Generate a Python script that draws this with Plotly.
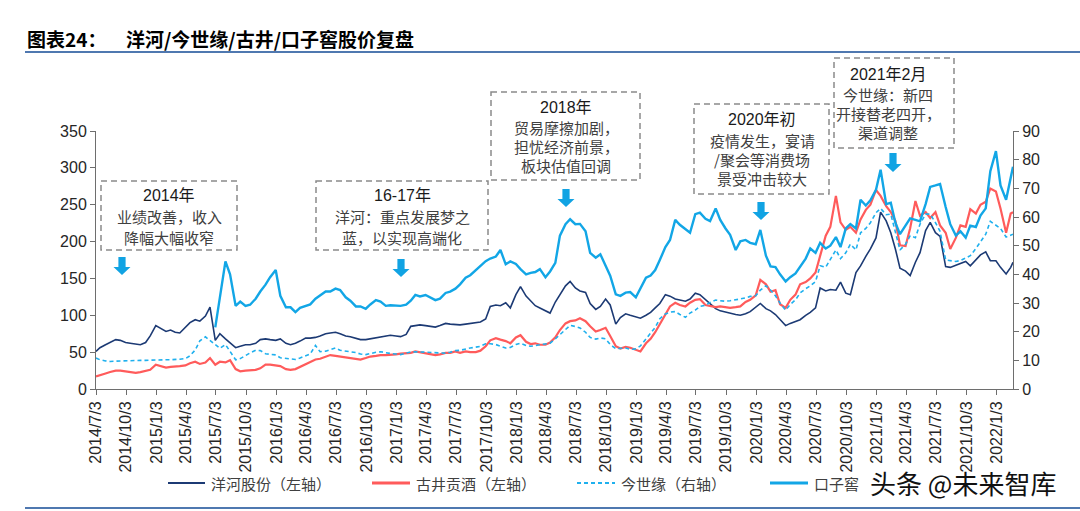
import plotly.graph_objects as go

# ---------------- data (semi-monthly readings) ----------------
dates = []
for yr in range(2014, 2023):
    for mo in range(1, 13):
        if (yr == 2014 and mo < 7) or (yr == 2022 and mo > 2):
            continue
        dates.append(f"{yr}-{mo:02d}-01")
        dates.append(f"{yr}-{mo:02d}-15")
dates[0] = "2014-07-03"
dates.append("2022-02-22")

yanghe = [
    51, 56, 60, 63, 67, 66, 63, 62, 61, 60, 63, 72,
    86, 82, 78, 80, 77, 76, 83, 90, 94, 92, 99, 111, 66, 75, 68, 62, 56, 58, 60, 60, 62, 67, 68, 67,
    66, 68, 62, 60, 62, 65, 69, 69, 70, 72, 75, 76, 77, 75, 72, 71, 69, 67, 67, 68, 70, 71, 72, 73,
    72, 71, 74, 85, 86, 87, 86, 85, 84, 86, 89, 88, 87, 87, 88, 89, 91, 91, 95, 112, 114, 113, 117, 110,
    128, 139, 126, 120, 113, 110, 106, 103, 118, 128, 140, 146, 137, 133, 131, 116, 108, 112, 122, 114, 88, 97, 102, 100,
    98, 96, 100, 104, 110, 116, 128, 126, 122, 121, 119, 122, 130, 128, 121, 116, 109, 106, 104, 103, 101, 100, 102, 105,
    111, 116, 109, 106, 101, 94, 86, 89, 92, 94, 100, 104, 110, 137, 133, 135, 134, 145, 130, 128, 158, 167, 180, 190,
    205, 240, 228, 212, 190, 164, 160, 154, 172, 185, 215, 226, 212, 207, 166, 165, 168, 170, 173, 167, 175, 182, 186, 174,
    174, 165, 156, 165, 172,
]

gujing = [
    17, 19, 21, 23, 25, 25, 24, 23, 22, 23, 25, 26,
    33, 31, 29, 30, 31, 31, 32, 35, 37, 34, 36, 42, 33, 37, 36, 39, 27, 24, 25, 25, 26, 28, 33, 33,
    32, 31, 27, 26, 27, 30, 34, 37, 40, 41, 44, 46, 45, 44, 43, 42, 41, 40, 42, 44, 45, 46, 46, 46,
    47, 48, 49, 49, 51, 50, 49, 48, 46, 47, 49, 49, 51, 49, 51, 50, 50, 52, 58, 66, 69, 67, 65, 62,
    70, 73, 64, 61, 62, 60, 60, 63, 70, 80, 89, 92, 93, 96, 92, 85, 78, 80, 83, 72, 58, 55, 57, 56,
    53, 51, 62, 68, 77, 88, 102, 112, 117, 114, 112, 117, 121, 122, 114, 113, 111, 112, 111, 110, 111, 112, 118, 121,
    127, 148, 142, 132, 134, 115, 110, 121, 128, 142, 145, 150, 158, 180, 208, 220, 262, 226, 216, 220, 212, 230, 243, 250,
    270, 262, 248, 240, 228, 195, 194, 218, 255, 235, 240, 232, 240, 222, 212, 190, 205, 222, 220, 244, 238, 250, 254, 272,
    268, 245, 212, 238, 240,
]

jinshiyuan = [
    10.8, 10.2, 9.8, 9.6, 9.7, 9.8, 9.9, 9.9, 9.9, 10.0, 10.0, 10.1,
    10.1, 10.1, 10.2, 10.2, 10.2, 10.4, 10.6, 11.6, 13.6, 16.8, 18.2, 17.0, 15.6, 14.2, 15.5, 13.0, 10.2, 10.6, 11.8, 12.6, 13.5, 13.4, 12.3, 12.0,
    11.9, 10.9, 10.6, 10.4, 10.3, 10.8, 11.7, 12.2, 15.2, 13.0, 13.2, 13.6, 14.3, 13.5, 13.1, 13.0, 12.7, 12.2, 12.0, 12.4, 12.8, 13.0, 12.6, 12.4,
    12.2, 12.0, 12.5, 12.9, 13.0, 12.9, 12.8, 12.7, 12.5, 12.4, 12.5, 12.8, 13.4, 13.5, 14.0, 14.3, 14.6, 14.9, 15.8, 15.8, 15.5, 15.0, 14.3, 14.5,
    15.5, 16.0, 15.2, 14.9, 15.2, 15.5, 15.8, 16.0, 17.5, 19.0, 21.0, 22.2, 21.8, 21.3, 19.8, 18.0, 17.4, 17.8, 17.5, 15.5, 14.1, 14.2, 14.3, 13.8,
    14.0, 15.0, 17.5, 19.5, 21.5, 24.5, 26.2, 26.8, 27.0, 26.0, 25.0, 26.5, 27.5, 28.8, 29.2, 30.2, 31.0, 30.8, 30.6, 30.8, 31.0, 31.4, 31.8, 32.3,
    32.5, 34.5, 36.0, 34.5, 32.5, 30.0, 27.5, 29.5, 31.1, 33.5, 35.0, 36.0, 37.5, 43.0, 42.5, 45.0, 48.5, 45.5, 47.5, 50.5, 48.5, 54.5, 56.0, 58.0,
    61.5, 63.0, 60.8, 61.0, 55.0, 48.5, 50.5, 53.5, 52.8, 57.5, 61.0, 61.0, 58.0, 55.0, 45.0, 44.8, 44.5, 44.8, 45.7, 46.5, 49.0, 51.5, 54.0, 58.5,
    57.0, 56.0, 53.0, 53.8, 54.0,
]

kouzijiao = [
    None, None, None, None, None, None, None, None, None, None, None, None,
    None, None, None, None, None, None, None, None, None, None, None, None,
    21.5, 32, 44.5, 40, 29, 30.5, 29, 29.4, 31.5, 34, 36.4, 39,
    41.5, 32.5, 28.5, 28.5, 26.8, 28.3, 29.0, 29.5, 31.5, 32.5, 34.0, 34.0, 35.0, 34.5, 32.0, 30.8, 28.8, 28.8, 28.0, 29.5, 31.0, 30.5, 29.0, 29.2,
    29.0, 29.0, 29.4, 30.8, 32.8, 32.3, 32.8, 32.0, 31.0, 31.5, 33.5, 34.0, 35.0, 36.5, 38.8, 39.7, 41.5, 42.8, 44.6, 45.5, 46.2, 48.5, 43.5, 44.5,
    43.6, 41.8, 40.0, 40.5, 40.8, 41.8, 39.0, 41.0, 44.0, 53.5, 57.5, 59.2, 57.5, 57.6, 55.0, 47.5, 45.8, 47.0, 43.0, 39.5, 33.0, 32.5, 33.6, 33.8,
    32.0, 35.0, 38.8, 39.6, 41.5, 45.0, 49.5, 52.0, 59.0, 57.3, 55.8, 54.5, 61.0, 61.5, 59.4, 58.6, 63.0, 59.0, 56.0, 53.8, 48.5, 51.5, 52.0, 51.0,
    50.5, 55.5, 46.5, 42.8, 42.5, 40.0, 37.5, 39.0, 40.3, 42.5, 45.5, 49.0, 47.5, 51.0, 49.0, 50.0, 53.0, 49.5, 56.0, 57.5, 56.0, 66.0, 64.0, 65.8,
    69.5, 76.5, 64.5, 65.0, 58.0, 54.0, 57.0, 59.5, 59.0, 58.5, 64.5, 70.5, 71.0, 71.5, 63.5, 57.5, 53.5, 55.0, 52.8, 57.0, 56.5, 60.5, 63.0, 76.0,
    83.0, 71.0, 66.0, 74.0, 77.5,
]

tick_dates = [
    "2014-07-03", "2014-10-03", "2015-01-03", "2015-04-03", "2015-07-03", "2015-10-03",
    "2016-01-03", "2016-04-03", "2016-07-03", "2016-10-03", "2017-01-03", "2017-04-03",
    "2017-07-03", "2017-10-03", "2018-01-03", "2018-04-03", "2018-07-03", "2018-10-03",
    "2019-01-03", "2019-04-03", "2019-07-03", "2019-10-03", "2020-01-03", "2020-04-03",
    "2020-07-03", "2020-10-03", "2021-01-03", "2021-04-03", "2021-07-03", "2021-10-03",
    "2022-01-03",
]
tick_labels = [
    "2014/7/3", "2014/10/3", "2015/1/3", "2015/4/3", "2015/7/3", "2015/10/3",
    "2016/1/3", "2016/4/3", "2016/7/3", "2016/10/3", "2017/1/3", "2017/4/3",
    "2017/7/3", "2017/10/3", "2018/1/3", "2018/4/3", "2018/7/3", "2018/10/3",
    "2019/1/3", "2019/4/3", "2019/7/3", "2019/10/3", "2020/1/3", "2020/4/3",
    "2020/7/3", "2020/10/3", "2021/1/3", "2021/4/3", "2021/7/3", "2021/10/3",
    "2022/1/3",
]

series_names = ["洋河股份（左轴）", "古井贡酒（左轴）", "今世缘（右轴）", "口子窖（右轴）"]
legend_labels = ["洋河股份（左轴）", "古井贡酒（左轴）", "今世缘（右轴）", "口子窖"]

# ---------------- styling ----------------
NAVY = "#1c3a74"
RED = "#ff5b5b"
LBLUE = "#1fb0ee"
KBLUE = "#12a6e6"
CJK = "Noto Sans CJK SC"
LAT = "Liberation Sans, Arial"

W_FIG, H_FIG = 1080, 511
L, R, T, B = 96, 1013, 131, 389
PW, PH = R - L, B - T


def X(px):
    return (px - L) / PW


def Y(py):
    return (B - py) / PH


fig = go.Figure()
fig.add_trace(go.Scatter(x=dates, y=yanghe, mode="lines", name=series_names[0],
                         line=dict(color=NAVY, width=1.6), showlegend=False))
fig.add_trace(go.Scatter(x=dates, y=gujing, mode="lines", name=series_names[1],
                         line=dict(color=RED, width=2.2), showlegend=False))
fig.add_trace(go.Scatter(x=dates, y=jinshiyuan, mode="lines", name=series_names[2], yaxis="y2",
                         line=dict(color=LBLUE, width=1.6, dash="4px,3px"), showlegend=False))
fig.add_trace(go.Scatter(x=dates, y=kouzijiao, mode="lines", name=series_names[3], yaxis="y2",
                         line=dict(color=KBLUE, width=2.4), showlegend=False))

axis_common = dict(showgrid=False, zeroline=False, showline=True, linecolor="#6e6e6e",
                   linewidth=1, ticks="outside", ticklen=5, tickcolor="#6e6e6e",
                   tickfont=dict(family=LAT, size=16, color="#262626"))

fig.update_layout(
    width=W_FIG, height=H_FIG,
    margin=dict(l=L, r=W_FIG - R, t=T, b=H_FIG - B),
    paper_bgcolor="white", plot_bgcolor="white",
    xaxis=dict(type="date", range=["2014-07-03", "2022-02-22"], tickvals=tick_dates,
               ticktext=tick_labels, tickangle=-90, **axis_common),
    yaxis=dict(range=[0, 350], tickvals=[0, 50, 100, 150, 200, 250, 300, 350], **axis_common),
    yaxis2=dict(range=[0, 90], tickvals=[0, 10, 20, 30, 40, 50, 60, 70, 80, 90],
                overlaying="y", side="right", **axis_common),
)

shapes = []
annotations = []

# title + rules
annotations.append(dict(x=X(25), y=Y(38), xref="paper", yref="paper", xanchor="left", yanchor="middle",
                        text="<b>图表24：</b>", showarrow=False,
                        font=dict(family=CJK, size=19, color="#000000")))
annotations.append(dict(x=X(124), y=Y(38), xref="paper", yref="paper", xanchor="left", yanchor="middle",
                        text="<b>洋河/今世缘/古井/口子窖股价复盘</b>", showarrow=False,
                        font=dict(family=CJK, size=19, color="#000000")))
for yy in (52, 508):
    shapes.append(dict(type="line", xref="paper", yref="paper", x0=X(25), x1=X(1080), y0=Y(yy), y1=Y(yy),
                       line=dict(color="#4f78b0", width=2)))

# annotation boxes
boxes = [
    ((101, 181, 237, 250), 169, [(195, "2014年", True), (216, "业绩改善，收入", False), (237, "降幅大幅收窄", False)]),
    ((316, 181, 488, 250), 402, [(195, "16-17年", True), (216, "洋河：重点发展梦之", False), (237, "蓝，以实现高端化", False)]),
    ((491, 92, 640, 180), 566, [(107, "2018年", True), (127, "贸易摩擦加剧，", False), (146, "担忧经济前景，", False),
                                (165, "板块估值回调", False)]),
    ((694, 104, 829, 194), 762, [(120, "2020年初", True), (140, "疫情发生，宴请", False), (159, "/聚会等消费场", False),
                                 (178, "景受冲击较大", False)]),
    ((834, 58, 954, 148), 888, [(74, "2021年2月", True), (94, "今世缘：新四", False), (113, "开接替老四开，", False),
                                (132, "渠道调整", False)]),
]
for (x0, y0, x1, y1), cx, lines in boxes:
    shapes.append(dict(type="rect", xref="paper", yref="paper", x0=X(x0), x1=X(x1), y0=Y(y0), y1=Y(y1),
                       line=dict(color="#8a8a8a", width=1.5, dash="6px,4px"), fillcolor="rgba(255,255,255,0)"))
    for ly, txt, head in lines:
        annotations.append(dict(x=X(cx), y=Y(ly), xref="paper", yref="paper", xanchor="center", yanchor="middle",
                                text=txt, showarrow=False,
                                font=dict(family=(LAT + ", " + CJK) if head else CJK,
                                          size=16 if head else 15,
                                          color="#1a1a1a" if head else "#404040")))

# block arrows
arrows = [(122, 257, 275), (401, 259, 277), (566, 189, 207), (761, 202, 220), (893, 153, 172)]
for cx, ta, ba in arrows:
    hw, sw, hh = 8.5, 3.6, 8
    pts = [(cx - sw, ta), (cx + sw, ta), (cx + sw, ba - hh), (cx + hw, ba - hh), (cx, ba),
           (cx - hw, ba - hh), (cx - sw, ba - hh)]
    path = "M " + " L ".join(f"{X(px):.5f},{Y(py):.5f}" for px, py in pts) + " Z"
    shapes.append(dict(type="path", xref="paper", yref="paper", path=path,
                       fillcolor="#11a3e3", line=dict(width=0)))

# manual legend
leg_y = 483
leg_items = [
    (168, 205, NAVY, 2, "solid", legend_labels[0]),
    (372, 410, RED, 3, "solid", legend_labels[1]),
    (577, 615, LBLUE, 2, "4px,3px", legend_labels[2]),
    (770, 808, KBLUE, 3, "solid", legend_labels[3]),
]
for lx0, lx1, col, wd, ds, nm in leg_items:
    shapes.append(dict(type="line", xref="paper", yref="paper", x0=X(lx0), x1=X(lx1), y0=Y(leg_y), y1=Y(leg_y),
                       line=dict(color=col, width=wd, dash=ds)))
    annotations.append(dict(x=X(lx1 + 4), y=Y(leg_y), xref="paper", yref="paper", xanchor="left",
                            yanchor="middle", text=nm, showarrow=False,
                            font=dict(family=CJK, size=15, color="#404040")))

# watermark
annotations.append(dict(x=X(868), y=Y(482), xref="paper", yref="paper", xanchor="left", yanchor="middle",
                        text="头条 @未来智库", showarrow=False,
                        font=dict(family=CJK, size=26, color="#111111")))

fig.update_layout(shapes=shapes, annotations=annotations)
fig.write_html("out.html")
